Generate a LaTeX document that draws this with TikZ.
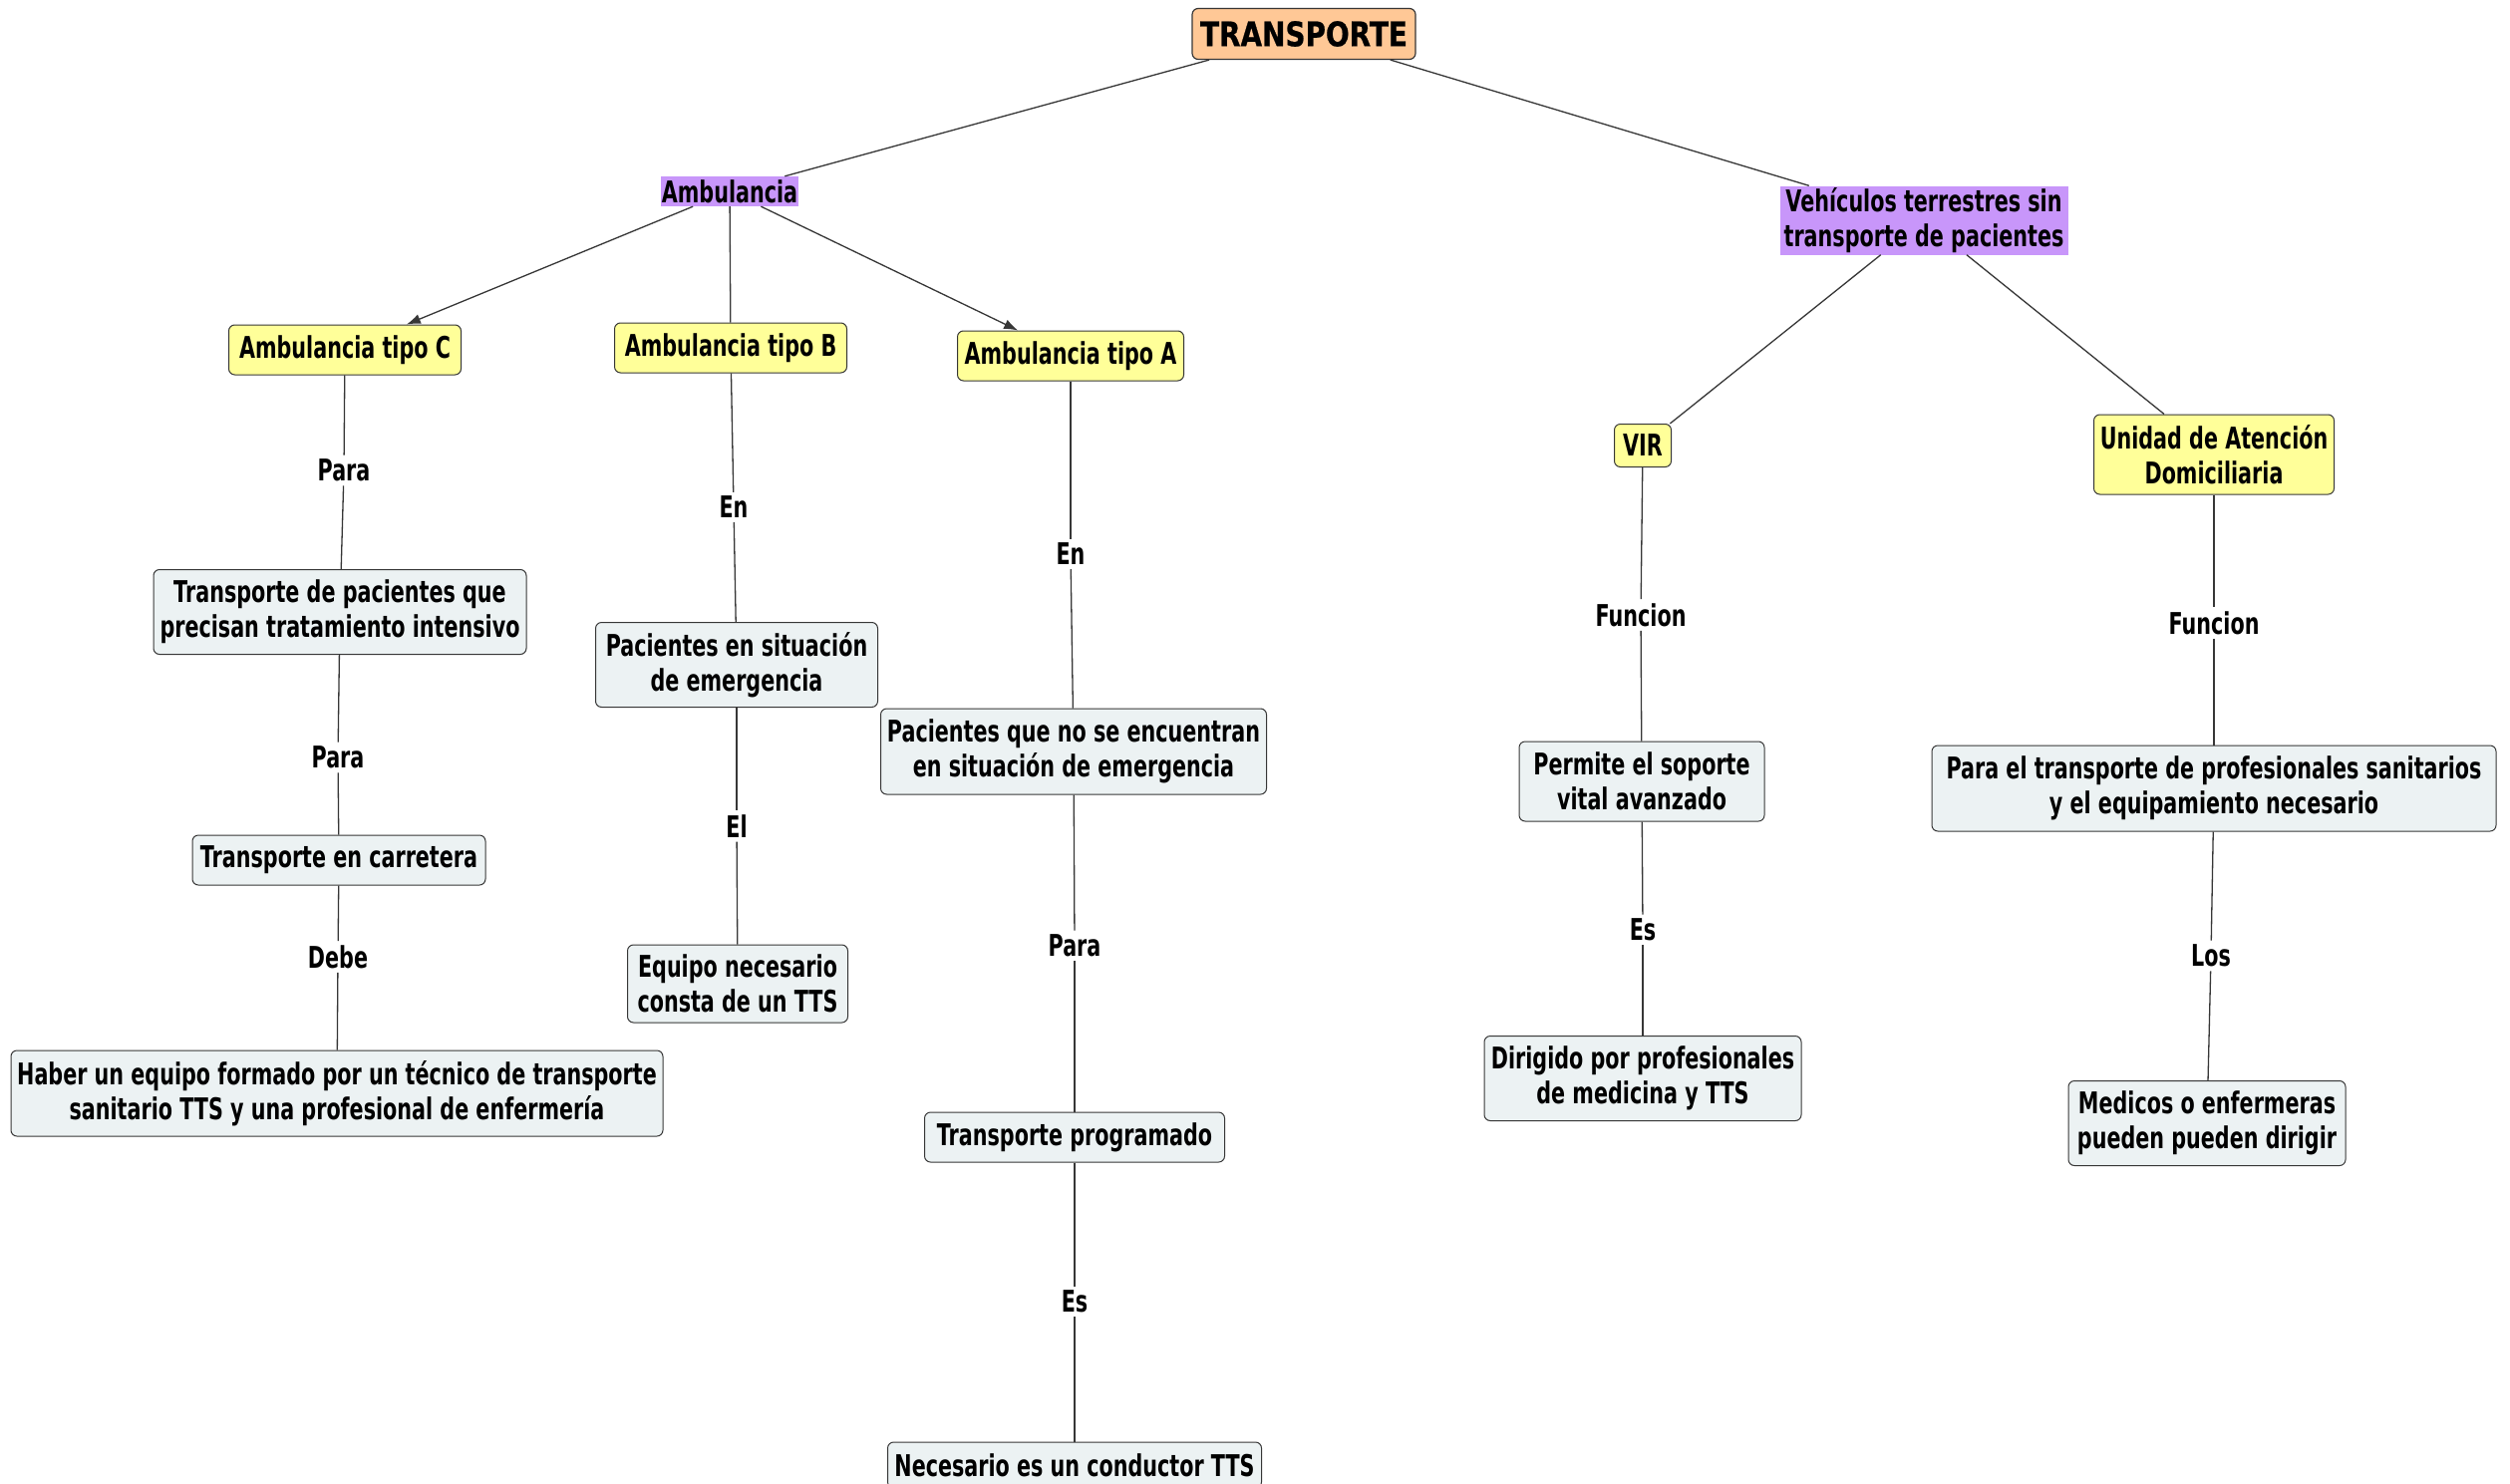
\documentclass[tikz,border=0pt]{standalone}
\usepackage{fontspec}
\setmainfont{DejaVu Sans}[FakeStretch=0.69]
\newfontfamily\rootfont{DejaVu Sans}[FakeStretch=0.82, FakeBold=0.6]
\usetikzlibrary{arrows.meta}
\definecolor{peach}{RGB}{255,200,150}
\definecolor{lav}{RGB}{200,150,250}
\definecolor{yel}{RGB}{255,255,153}
\definecolor{pale}{RGB}{236,242,243}
\definecolor{edge}{RGB}{55,55,55}
\begin{document}
\begin{tikzpicture}[x=1pt,y=-1pt,
 base/.style={font=\fontsize{30}{35}\selectfont\bfseries, align=center, inner sep=0pt},
 root/.style={base, font=\rootfont\fontsize{34}{38}\selectfont\bfseries, fill=peach, draw=edge, rounded corners=6pt, line width=1.2pt},
 cat/.style={base, fill=lav},
 kind/.style={base, fill=yel, draw=edge, rounded corners=6pt, line width=1pt},
 info/.style={base, fill=pale, draw=edge, rounded corners=6pt, line width=1pt},
 lbl/.style={base, inner sep=4pt},
 link/.style={draw=edge, line width=1.3pt},
 arr/.style={link, -{Latex[length=14pt,width=10pt]}}
]
\useasboundingbox (0,0) rectangle (2518,1488);
\fill[white] (0,0) rectangle (2518,1488);

\node[root, minimum width=224, minimum height=51] (t) at (1308,34) {TRANSPORTE};
\node[cat, minimum width=138, minimum height=30] (amb) at (732,192) {Ambulancia};
\node[cat, minimum width=289, minimum height=69] (veh) at (1930,221) {Vehículos terrestres sin\\transporte de pacientes};
\node[kind, minimum width=233, minimum height=50] (c) at (346,351) {Ambulancia tipo C};
\node[kind, minimum width=233, minimum height=50] (b) at (733,349) {Ambulancia tipo B};
\node[kind, minimum width=227, minimum height=50] (a) at (1074,357) {Ambulancia tipo A};
\node[kind, minimum width=57, minimum height=43] (vir) at (1648,447) {VIR};
\node[kind, minimum width=241, minimum height=80] (uad) at (2221,456) {Unidad de Atención\\Domiciliaria};
\node[info, minimum width=374, minimum height=85] (tp) at (341,614) {Transporte de pacientes que\\precisan tratamiento intensivo};
\node[info, minimum width=283, minimum height=85] (pe) at (739,667) {Pacientes en situación\\de emergencia};
\node[info, minimum width=387, minimum height=86] (pn) at (1077,754) {Pacientes que no se encuentran\\en situación de emergencia};
\node[info, minimum width=246, minimum height=80] (ps) at (1647,784) {Permite el soporte\\vital avanzado};
\node[info, minimum width=566, minimum height=86] (pt) at (2221,791) {Para el transporte de profesionales sanitarios\\y el equipamiento necesario};
\node[info, minimum width=294, minimum height=50] (tc) at (340,863) {Transporte en carretera};
\node[info, minimum width=221, minimum height=78] (eq) at (740,987) {Equipo necesario\\consta de un TTS};
\node[info, minimum width=654, minimum height=86] (hb) at (338,1097) {Haber un equipo formado por un técnico de transporte\\sanitario TTS y una profesional de enfermería};
\node[info, minimum width=301, minimum height=50] (tpr) at (1078,1141) {Transporte programado};
\node[info, minimum width=318, minimum height=85] (dp) at (1648,1082) {Dirigido por profesionales\\de medicina y TTS};
\node[info, minimum width=278, minimum height=85] (me) at (2214,1127) {Medicos o enfermeras\\pueden pueden dirigir};
\node[info, minimum width=375, minimum height=46] (nc) at (1078,1470) {Necesario es un conductor TTS};

\node[lbl] (l1) at (345,472) {Para};
\node[lbl] (l2) at (339,760) {Para};
\node[lbl] (l3) at (339,960) {Debe};
\node[lbl] (l4) at (736,509) {En};
\node[lbl] (l5) at (739,829) {El};
\node[lbl] (l6) at (1074,556) {En};
\node[lbl] (l7) at (1078,949) {Para};
\node[lbl] (l8) at (1078,1306) {Es};
\node[lbl] (l9) at (1646,617) {Funcion};
\node[lbl] (l10) at (1648,933) {Es};
\node[lbl] (l11) at (2221,625) {Funcion};
\node[lbl] (l12) at (2218,959) {Los};

\draw[link] (t) -- (amb);
\draw[link] (t) -- (veh);
\draw[arr] (amb) -- (c);
\draw[link] (amb) -- (b);
\draw[arr] (amb) -- (a);
\draw[link] (veh) -- (vir);
\draw[link] (veh) -- (uad);

\draw[link] (c) -- (l1);  \draw[link] (l1) -- (tp);
\draw[link] (tp) -- (l2); \draw[link] (l2) -- (tc);
\draw[link] (tc) -- (l3); \draw[link] (l3) -- (hb);
\draw[link] (b) -- (l4);  \draw[link] (l4) -- (pe);
\draw[link] (pe) -- (l5); \draw[link] (l5) -- (eq);
\draw[link] (a) -- (l6);  \draw[link] (l6) -- (pn);
\draw[link] (pn) -- (l7); \draw[link] (l7) -- (tpr);
\draw[link] (tpr) -- (l8); \draw[link] (l8) -- (nc);
\draw[link] (vir) -- (l9); \draw[link] (l9) -- (ps);
\draw[link] (ps) -- (l10); \draw[link] (l10) -- (dp);
\draw[link] (uad) -- (l11); \draw[link] (l11) -- (pt);
\draw[link] (pt) -- (l12); \draw[link] (l12) -- (me);
\end{tikzpicture}
\end{document}
